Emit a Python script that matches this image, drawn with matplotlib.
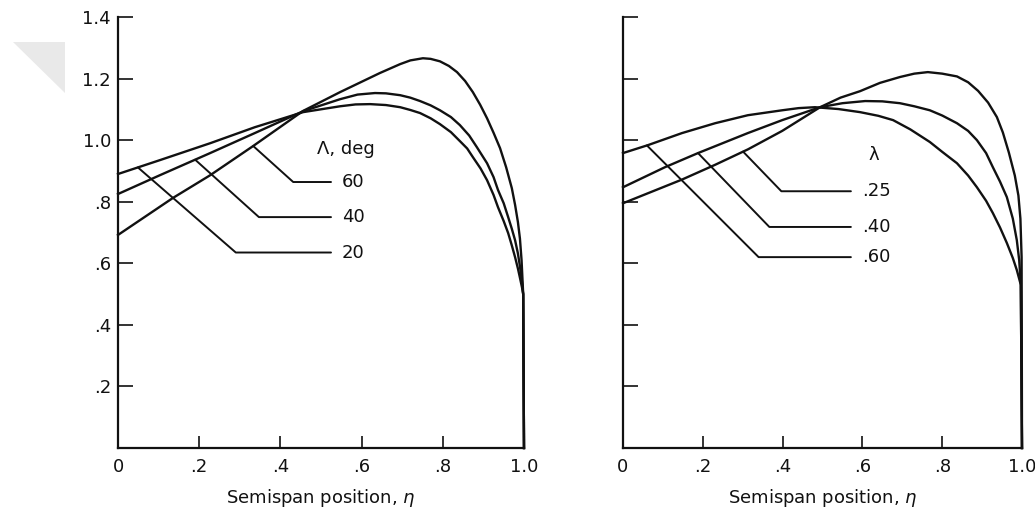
import numpy as np
import matplotlib.pyplot as plt
from matplotlib.patches import Polygon

# Left panel: spanwise load for several sweep angles (Lambda, deg)
eta_sw20 = [0, .103, .227, .337, .456, .547, .585, .621, .66, .695, .72, .744, .77, .793, .82, .842, .86,
            .874, .893, .909, .925, .936, .950, .961, .970, .978, .985, .990, .995, .998, 1.0]
load_sw20 = [.890, .935, .990, 1.042, 1.091, 1.110, 1.116, 1.117, 1.114, 1.107, 1.098, 1.088, 1.071, 1.052,
             1.026, .997, .973, .945, .908, .870, .822, .782, .737, .698, .658, .620, .583, .553, .522, .50, 0]

eta_sw40 = [0, .103, .227, .337, .456, .547, .59, .633, .66, .695, .72, .744, .77, .793, .82, .842, .865,
            .884, .909, .925, .936, .950, .961, .970, .978, .985, .990, .995, .998, 1.0]
load_sw40 = [.825, .886, .958, 1.023, 1.094, 1.133, 1.148, 1.153, 1.152, 1.146, 1.138, 1.127, 1.113, 1.097,
             1.075, 1.049, 1.015, .977, .925, .880, .838, .795, .750, .712, .675, .632, .590, .540, .50, 0]

eta_sw60 = [0, .135, .227, .333, .456, .547, .645, .695, .72, .751, .77, .793, .815, .835, .855, .874, .892,
            .909, .925, .941, .956, .970, .978, .985, .990, .994, .998, 1.0]
load_sw60 = [.692, .812, .886, .981, 1.095, 1.156, 1.218, 1.247, 1.259, 1.266, 1.264, 1.256, 1.241, 1.221,
             1.192, 1.156, 1.115, 1.071, 1.024, .974, .912, .844, .790, .734, .680, .610, .50, 0]

# Right panel: spanwise load for several taper ratios (lambda)
eta_tr25 = [0, .148, .231, .313, .399, .494, .545, .594, .644, .694, .73, .764, .80, .837, .865, .89, .915,
            .937, .952, .967, .982, .991, .996, .999, 1.0]
load_tr25 = [.795, .872, .920, .970, 1.030, 1.107, 1.138, 1.159, 1.186, 1.205, 1.216, 1.221, 1.216, 1.207,
             1.188, 1.160, 1.122, 1.075, 1.025, .960, .885, .820, .745, .620, 0]

eta_tr40 = [0, .105, .188, .313, .399, .494, .55, .607, .65, .694, .73, .769, .80, .837, .865, .887, .91,
            .927, .945, .962, .977, .987, .993, .997, 1.0]
load_tr40 = [.847, .912, .958, 1.023, 1.065, 1.107, 1.120, 1.127, 1.126, 1.120, 1.110, 1.097, 1.080, 1.055,
             1.030, 1.000, .958, .912, .865, .815, .745, .675, .610, .53, 0]

eta_tr60 = [0, .063, .148, .231, .313, .399, .44, .481, .54, .594, .64, .677, .72, .769, .80, .837, .865,
            .887, .91, .927, .945, .962, .977, .987, .997, 1.0]
load_tr60 = [.958, .984, 1.023, 1.055, 1.081, 1.097, 1.104, 1.107, 1.101, 1.091, 1.079, 1.065, 1.035, .994,
             .962, .925, .885, .847, .803, .763, .716, .666, .617, .578, .53, 0]

sweep_labels = ['20', '40', '60']
taper_labels = ['.60', '.40', '.25']

x_ticks = [0, .2, .4, .6, .8, 1.0]
x_tick_labels = ['0', '.2', '.4', '.6', '.8', '1.0']
y_ticks = [.2, .4, .6, .8, 1.0, 1.2, 1.4]
y_tick_labels = ['.2', '.4', '.6', '.8', '1.0', '1.2', '1.4']

plt.rcParams['font.family'] = ['DejaVu Sans']
ink = '#111111'

W, H = 1035, 512
fig = plt.figure(figsize=(W / 100, H / 100), dpi=100)
fig.patch.set_facecolor('white')

# faint grey triangle in the top-left corner of the scan
fig.patches.append(Polygon([(13 / W, 1 - 42 / H), (65 / W, 1 - 42 / H), (65 / W, 1 - 93 / H)],
                           closed=True, transform=fig.transFigure, facecolor='#e9e9e9',
                           edgecolor='none'))

ax1 = fig.add_axes([118 / W, 64 / H, 406 / W, 431 / H])
ax2 = fig.add_axes([623 / W, 64 / H, 399 / W, 431 / H])


def style_axis(ax, show_ylabels):
    ax.set_xlim(0, 1.0)
    ax.set_ylim(0, 1.4)
    for side in ['top', 'right']:
        ax.spines[side].set_visible(False)
    for side in ['left', 'bottom']:
        ax.spines[side].set_linewidth(1.6)
        ax.spines[side].set_color(ink)
    ax.set_xticks(x_ticks)
    ax.set_xticklabels(x_tick_labels)
    ax.set_yticks(y_ticks)
    if show_ylabels:
        ax.set_yticklabels(y_tick_labels)
    else:
        ax.set_yticklabels([])
    ax.tick_params(axis='x', direction='in', length=9, width=1.2, pad=7,
                   labelsize=13, colors=ink)
    ax.tick_params(axis='y', direction='in', length=11, width=1.2, pad=5,
                   labelsize=13, colors=ink)
    ax.set_xlabel('Semispan position, $\\eta$', fontsize=13, color=ink, labelpad=8)
    ax.patch.set_alpha(0)


def leader(ax, text, eta, load, eta_pick, text_xy, angle):
    # label with a bent leader line down to the curve
    y_pick = np.interp(eta_pick, eta, load)
    ax.annotate(text, xy=(eta_pick, y_pick), xytext=text_xy,
                ha='left', va='center', fontsize=13, color=ink,
                arrowprops=dict(arrowstyle='-', color=ink, lw=1.4,
                                shrinkA=6, shrinkB=0,
                                connectionstyle=f'angle,angleA=0,angleB={angle},rad=0'))


style_axis(ax1, True)
style_axis(ax2, False)

# left panel curves
for eta, load in [(eta_sw20, load_sw20), (eta_sw40, load_sw40), (eta_sw60, load_sw60)]:
    ax1.plot(eta, load, color=ink, lw=1.7, clip_on=False, solid_joinstyle='round')

leader(ax1, sweep_labels[0], eta_sw20, load_sw20, .049, (.552, .635), -41)
leader(ax1, sweep_labels[1], eta_sw40, load_sw40, .190, (.552, .750), -42)
leader(ax1, sweep_labels[2], eta_sw60, load_sw60, .333, (.552, .864), -42)
ax1.text(.49, .971, 'Λ, deg', fontsize=13, color=ink, ha='left', va='center')

# right panel curves
for eta, load in [(eta_tr25, load_tr25), (eta_tr40, load_tr40), (eta_tr60, load_tr60)]:
    ax2.plot(eta, load, color=ink, lw=1.7, clip_on=False, solid_joinstyle='round')

leader(ax2, taper_labels[0], eta_tr60, load_tr60, .060, (.599, .620), -45)
leader(ax2, taper_labels[1], eta_tr40, load_tr40, .188, (.599, .718), -46)
leader(ax2, taper_labels[2], eta_tr25, load_tr25, .301, (.599, .834), -46)
ax2.text(.614, .951, 'λ', fontsize=13, color=ink, ha='left', va='center')

fig.savefig('out.png', dpi=100, facecolor='white')
